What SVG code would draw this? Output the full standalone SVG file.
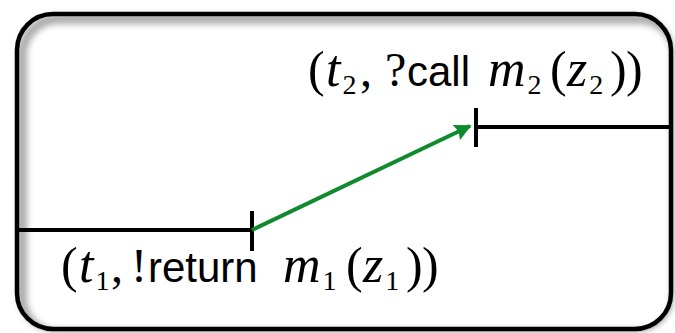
<svg xmlns="http://www.w3.org/2000/svg" width="675" height="333" viewBox="0 0 675 333">
<defs>
<style>
.m{font-family:"Liberation Serif","DejaVu Serif",serif;font-size:50px;fill:#000}
.i{font-style:italic;font-size:52px}
.p{font-size:48px}
.s{font-family:"Liberation Sans","DejaVu Sans",sans-serif;font-size:42px}
.sub{font-size:28px}
.line{stroke:#000;stroke-width:4;fill:none}
.tick{stroke:#000;stroke-width:4}
</style>
<clipPath id="inner"><rect x="17" y="14" width="654" height="315" rx="36" ry="36"/></clipPath>
<filter id="blur" x="-10%" y="-10%" width="120%" height="120%"><feGaussianBlur stdDeviation="3"/></filter>
<marker id="arr" viewBox="0 0 10 10" refX="9" refY="5" markerWidth="4.5" markerHeight="4.2" orient="auto" markerUnits="strokeWidth">
<path d="M0,0 L10,5 L0,10 L1.5,5 Z" fill="#0f8a2c"/>
</marker>
</defs>
<g id="frame">
<rect x="19" y="16" width="654" height="315" rx="36" ry="36" fill="#888" filter="url(#blur)"/>
<rect x="17" y="14" width="654" height="315" rx="36" ry="36" fill="#fff"/>
<g clip-path="url(#inner)">
<rect x="22" y="19" width="654" height="315" rx="36" ry="36" fill="none" stroke="#aaa" stroke-width="10" filter="url(#blur)"/>
</g>
<rect x="17" y="14" width="654" height="315" rx="36" ry="36" fill="none" stroke="#000" stroke-width="4.5"/>
</g>
<g id="lifeline1">
<line class="line" x1="19" y1="230" x2="252" y2="230"/>
<line class="tick" x1="252" y1="211" x2="252" y2="251"/>
</g>
<g id="lifeline2">
<line class="line" x1="476" y1="127" x2="673" y2="127"/>
<line class="tick" x1="476" y1="108" x2="476" y2="147"/>
</g>
<g id="connectors">
<line x1="252" y1="230" x2="470" y2="126" stroke="#0f8a2c" stroke-width="4" marker-end="url(#arr)"/>
</g>
<g id="label-top">
<text class="m" y="86"><tspan x="308">(</tspan><tspan class="i" x="326">t</tspan><tspan class="sub" dx="2" y="94">2</tspan><tspan class="p" x="360" y="86">,</tspan><tspan class="p" x="385">?</tspan><tspan class="s" x="407">call</tspan><tspan class="i" x="488">m</tspan><tspan class="sub" dx="2" y="94">2</tspan><tspan x="550" y="86">(</tspan><tspan class="i" x="567">z</tspan><tspan class="sub" dx="2" y="94">2</tspan><tspan x="610" y="86">)</tspan><tspan x="626">)</tspan></text>
</g>
<g id="label-bottom">
<text class="m" y="282"><tspan x="61">(</tspan><tspan class="i" x="79">t</tspan><tspan class="sub" dx="2" y="290">1</tspan><tspan class="p" x="111" y="282">,</tspan><tspan class="p" x="131">!</tspan><tspan class="s" x="148">return</tspan><tspan class="i" x="283">m</tspan><tspan class="sub" dx="2" y="290">1</tspan><tspan x="346" y="282">(</tspan><tspan class="i" x="363">z</tspan><tspan class="sub" dx="2" y="290">1</tspan><tspan x="406" y="282">)</tspan><tspan x="422">)</tspan></text>
</g>
</svg>
